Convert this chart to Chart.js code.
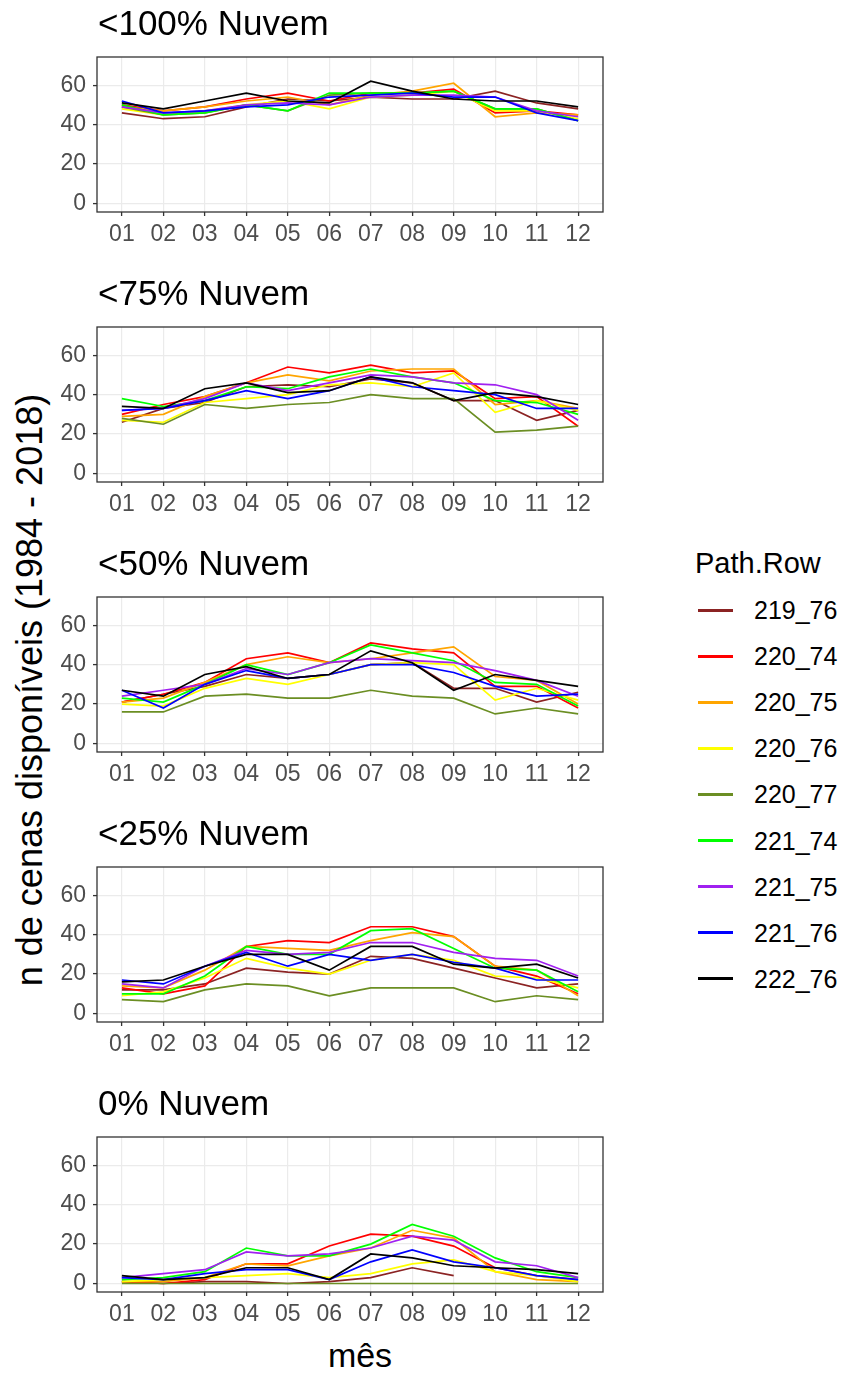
<!DOCTYPE html>
<html>
<head>
<meta charset="utf-8">
<script src="https://cdn.jsdelivr.net/npm/chart.js@4.4.1/dist/chart.umd.min.js"></script>
<style>
  html, body { margin: 0; padding: 0; background: #fff; }
  body { width: 841px; height: 1376px; position: relative; overflow: hidden;
         font-family: "Liberation Sans", Arial, sans-serif; }
  canvas { position: absolute; left: 0; }
  .txt { position: absolute; white-space: nowrap; line-height: 1; color: #000; }
  #ytitle { left: 30px; top: 690px; font-size: 36px; transform: translate(-50%, -50%) rotate(-90deg); }
  #xtitle { left: 360px; top: 1355px; font-size: 34px; transform: translate(-50%, -50%); }
  #legtitle { left: 695px; top: 563px; font-size: 29px; transform: translateY(-50%); }
  .key { position: absolute; left: 698px; width: 35px; height: 3px; }
  .keylbl { position: absolute; left: 754px; font-size: 25px; line-height: 1; transform: translateY(-50%); }
</style>
</head>
<body>
<div class="txt" id="ytitle">n de cenas disponíveis (1984 - 2018)</div>
<div class="txt" id="xtitle">mês</div>
<div class="txt" id="legtitle">Path.Row</div>
<script>
const months = ['01', '02', '03', '04', '05', '06', '07', '08', '09', '10', '11', '12'];
const pathRows = ['219_76', '220_74', '220_75', '220_76', '220_77', '221_74', '221_75', '221_76', '222_76'];
const lineColors = ['#8B2323', '#FF0000', '#FFA500', '#FFFF00', '#6B8E23', '#00FF00', '#A020F0', '#0000FF', '#000000'];
const panelTitles = ['<100% Nuvem', '<75% Nuvem', '<50% Nuvem', '<25% Nuvem', '0% Nuvem'];
const yGrid = [0, 10, 20, 30, 40, 50, 60, 70];

// scenes per month, one row per path/row (same order as pathRows)
const cloud100 = [
  [46, 43, 44, 49, 53, 52, 54, 53, 53, 57, 51, 48],
  [50, 47, 49, 53, 56, 52, 56, 56, 58, 46, 47, 45],
  [49, 47, 49, 52, 54, 50, 55, 57, 61, 44, 46, 45],
  [48, 45, 47, 50, 52, 48, 54, 55, 57, 47, 47, 43],
  [49, 45, 46, 50, 47, 55, 56, 56, 57, 48, 48, 42],
  [50, 45, 46, 50, 47, 56, 56, 56, 57, 48, 48, 42],
  [49, 46, 47, 50, 51, 50, 54, 55, 55, 54, 47, 44],
  [52, 46, 47, 49, 50, 54, 55, 56, 54, 54, 46, 42],
  [51, 48, 52, 56, 52, 51, 62, 57, 53, 52, 52, 49]
];
const cloud75 = [
  [26, 33, 36, 44, 45, 44, 48, 46, 37, 37, 27, 32],
  [30, 35, 39, 46, 54, 51, 55, 51, 52, 38, 39, 24],
  [29, 30, 39, 46, 50, 47, 52, 53, 53, 35, 37, 33],
  [27, 26, 36, 38, 40, 45, 46, 44, 51, 31, 37, 32],
  [28, 25, 35, 33, 35, 36, 40, 38, 38, 21, 22, 24],
  [38, 34, 37, 44, 43, 49, 53, 49, 46, 37, 36, 30],
  [32, 33, 38, 46, 42, 46, 50, 49, 46, 45, 40, 27],
  [32, 33, 37, 42, 38, 42, 49, 44, 42, 40, 33, 33],
  [34, 33, 43, 46, 41, 42, 49, 46, 37, 41, 39, 35]
];
const cloud50 = [
  [21, 25, 29, 35, 33, 35, 40, 41, 28, 28, 21, 26],
  [21, 25, 31, 43, 46, 41, 51, 48, 46, 29, 29, 18],
  [21, 23, 31, 40, 44, 41, 43, 46, 49, 34, 32, 20],
  [20, 19, 28, 33, 30, 35, 40, 41, 40, 22, 28, 22],
  [16, 16, 24, 25, 23, 23, 27, 24, 23, 15, 18, 15],
  [23, 21, 30, 40, 35, 41, 50, 46, 42, 31, 30, 19],
  [24, 27, 30, 38, 35, 41, 43, 42, 41, 37, 32, 24],
  [27, 18, 30, 37, 33, 35, 40, 40, 36, 29, 24, 25],
  [27, 24, 35, 39, 33, 35, 47, 41, 27, 35, 32, 29]
];
const cloud25 = [
  [12, 12, 15, 23, 21, 20, 29, 28, 23, 18, 13, 15],
  [13, 10, 14, 34, 37, 36, 44, 44, 39, 24, 19, 10],
  [14, 13, 22, 34, 33, 32, 37, 41, 39, 24, 22, 9],
  [9, 11, 18, 28, 23, 20, 27, 30, 27, 19, 18, 13],
  [7, 6, 12, 15, 14, 9, 13, 13, 13, 6, 9, 7],
  [10, 10, 19, 34, 30, 30, 42, 43, 33, 23, 22, 11],
  [15, 13, 24, 32, 30, 31, 36, 36, 31, 28, 27, 19],
  [17, 15, 24, 31, 24, 30, 27, 30, 26, 23, 17, 17],
  [16, 17, 24, 30, 30, 22, 34, 34, 25, 23, 25, 18]
];
const cloud0 = [
  [1, 0, 1, 1, 0, 1, 3, 8, 4, null, null, null],
  [1, 0, 2, 10, 10, 19, 25, 24, 19, 8, 4, 2],
  [1, 1, 3, 10, 9, 14, 18, 27, 23, 6, 2, 1],
  [1, 2, 3, 4, 5, 3, 5, 10, 12, 6, 4, 1],
  [0, 0, 0, 0, 0, 0, 0, 0, 0, 0, 0, 0],
  [2, 3, 6, 18, 14, 14, 20, 30, 24, 13, 6, 3],
  [3, 5, 7, 16, 14, 15, 18, 24, 22, 11, 9, 3],
  [3, 2, 5, 7, 7, 2, 11, 17, 11, 8, 4, 2],
  [4, 2, 3, 8, 8, 2, 15, 13, 9, 8, 7, 5]
];

const panels = [cloud100, cloud75, cloud50, cloud25, cloud0];

const FONT = '"Liberation Sans", Arial, sans-serif';
const PANEL_H = 270;

// dark box around each panel, drawn over the lines
const frame = {
  id: 'frame',
  afterDatasetsDraw(chart) {
    const { ctx, chartArea: a } = chart;
    ctx.save();
    ctx.strokeStyle = '#333333';
    ctx.lineWidth = 1.3;
    ctx.strokeRect(a.left, a.top, a.right - a.left, a.bottom - a.top);
    ctx.restore();
  }
};

// panel heading, left aligned with the plot box
const panelTitle = {
  id: 'panelTitle',
  afterDraw(chart, args, opts) {
    const { ctx, chartArea: a } = chart;
    ctx.save();
    ctx.font = '35px ' + FONT;
    ctx.fillStyle = '#000';
    ctx.textBaseline = 'alphabetic';
    ctx.fillText(opts.text, a.left + 1, a.top - 22);
    ctx.restore();
  }
};

panels.forEach((rows, p) => {
  const canvas = document.createElement('canvas');
  canvas.width = 650;
  canvas.height = PANEL_H;
  canvas.style.top = (p * PANEL_H) + 'px';
  document.body.appendChild(canvas);

  new Chart(canvas, {
    type: 'line',
    data: {
      datasets: rows.map((vals, s) => ({
        label: pathRows[s],
        data: vals.map((v, m) => ({ x: m + 1, y: v })),
        borderColor: lineColors[s],
        backgroundColor: lineColors[s],
        borderWidth: 1.7,
        pointRadius: 0,
        tension: 0,
        fill: false,
        order: rows.length - s
      }))
    },
    options: {
      responsive: false,
      animation: false,
      events: [],
      layout: { padding: { top: 57, right: 47, left: 0, bottom: 0 } },
      plugins: {
        legend: { display: false },
        tooltip: { enabled: false },
        panelTitle: { text: panelTitles[p] }
      },
      scales: {
        x: {
          type: 'linear',
          min: 0.4,
          max: 12.6,
          afterBuildTicks: (s) => { s.ticks = months.map((m, i) => ({ value: i + 1 })); },
          afterFit: (s) => { s.height = 58; },
          ticks: {
            callback: (v) => months[v - 1],
            autoSkip: false,
            maxRotation: 0,
            color: '#4D4D4D',
            font: { family: FONT, size: 23 },
            padding: 5
          },
          grid: { color: '#EBEBEB', lineWidth: 1.2, tickLength: 4, tickColor: '#333333', tickWidth: 1.3 },
          border: { display: false }
        },
        y: {
          min: -4.3,
          max: 74.3,
          afterBuildTicks: (s) => { s.ticks = yGrid.map((v) => ({ value: v })); },
          afterFit: (s) => { s.width = 97; },
          ticks: {
            callback: (v) => (v % 20 === 0 ? String(v) : ''),
            color: '#4D4D4D',
            font: { family: FONT, size: 23 },
            padding: 7
          },
          grid: {
            color: (c) => (c.tick && c.tick.value % 20 ? '#F2F2F2' : '#EBEBEB'),
            lineWidth: (c) => (c.tick && c.tick.value % 20 ? 0.8 : 1.2),
            tickLength: 4,
            tickColor: (c) => (c.tick && c.tick.value % 20 ? 'rgba(0,0,0,0)' : '#333333'),
            tickWidth: 1.3
          },
          border: { display: false }
        }
      }
    },
    plugins: [frame, panelTitle]
  });
});

// legend built from the same series names and colours
const KEY_TOP = 610;
const KEY_STEP = 46.1;
pathRows.forEach((name, s) => {
  const y = KEY_TOP + s * KEY_STEP;
  const key = document.createElement('div');
  key.className = 'key';
  key.style.top = (y - 1.5) + 'px';
  key.style.background = lineColors[s];
  document.body.appendChild(key);
  const lbl = document.createElement('div');
  lbl.className = 'keylbl';
  lbl.style.top = y + 'px';
  lbl.textContent = name;
  document.body.appendChild(lbl);
});
</script>
</body>
</html>
